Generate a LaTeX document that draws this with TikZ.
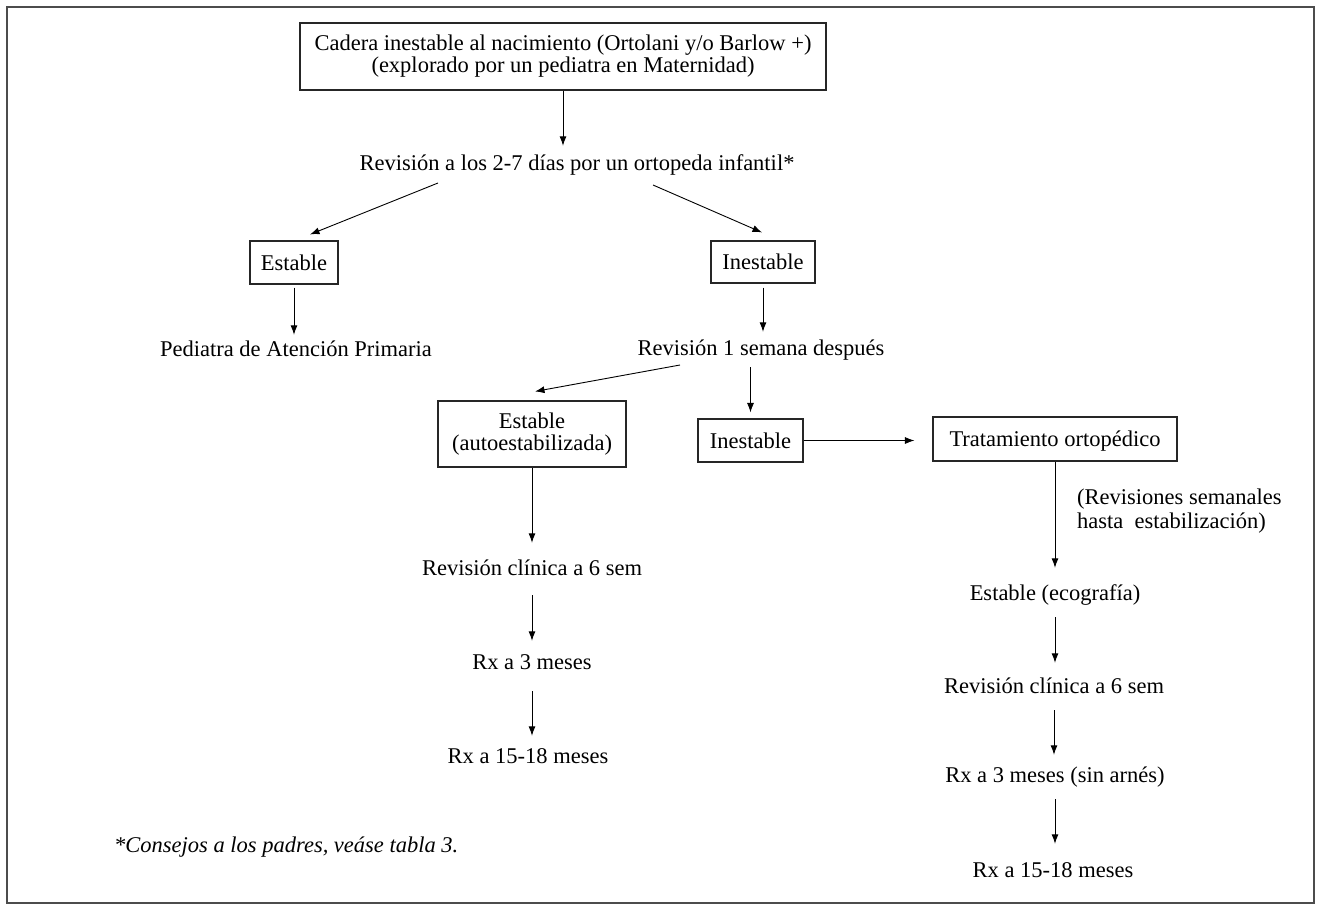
\documentclass[tikz,border=0pt]{standalone}
\usepackage{fontspec}
\setmainfont{Liberation Serif}
\usetikzlibrary{arrows.meta}
\begin{document}
\begin{tikzpicture}[x=1pt,y=-1pt,
  every node/.style={font=\fontsize{22.5}{22}\selectfont, inner sep=0pt},
  txt/.style={text height=15pt, text depth=0pt},
  box/.style={draw=black!85, line width=1.1pt, align=center},
  onebox/.style={box, text height=15pt, text depth=0pt},
  arr/.style={-{Latex[length=9.5pt,width=7pt]}, line width=0.9pt},
  frame/.style={draw=black!70, line width=1.2pt}]
\useasboundingbox (0,0) rectangle (1323,907);
\draw[frame] (7,7) rectangle (1314,903);

% boxes
\node[box, minimum width=526, minimum height=67] (top) at (563,56.5)
  {Cadera inestable al nacimiento (Ortolani y/o Barlow +)\\(explorado por un pediatra en Maternidad)};
\node[onebox, minimum width=88, minimum height=43] (st1) at (294,262.5) {Estable};
\node[onebox, minimum width=104, minimum height=42] (in1) at (763,262) {Inestable};
\node[box, minimum width=188, minimum height=66] (st2) at (532,434) {Estable\\(autoestabilizada)};
\node[onebox, minimum width=105, minimum height=43] (in2) at (750.5,440.5) {Inestable};
\node[onebox, minimum width=244, minimum height=44] (trat) at (1055,439) {Tratamiento ortopédico};

% plain text steps
\node[txt] (rev1) at (577,163) {Revisión a los 2-7 días por un ortopeda infantil*};
\node[txt] (ped) at (296,349) {Pediatra de Atención Primaria};
\node[txt] (rev2) at (761,348) {Revisión 1 semana después};
\node[txt] (rc1) at (532,568) {Revisión clínica a 6 sem};
\node[txt] (rx3) at (532,662) {Rx a 3 meses};
\node[txt] (rx15) at (528,756) {Rx a 15-18 meses};
\node[txt] (eco) at (1055,593) {Estable (ecografía)};
\node[txt] (rc2) at (1054,686) {Revisión clínica a 6 sem};
\node[txt] (rx3b) at (1055,775) {Rx a 3 meses (sin arnés)};
\node[txt] (rx15b) at (1053,870) {Rx a 15-18 meses};

\node[anchor=west, align=left, font=\fontsize{22.5}{24}\selectfont] (note) at (1077,511)
  {(Revisiones semanales\\hasta\ \ estabilización)};
\node[anchor=west, font=\fontsize{22.5}{22}\selectfont\itshape] (fn) at (114,847)
  {*Consejos a los padres, veáse tabla 3.};

% branch start points under the text lines
\coordinate (r1l) at (438,183);
\coordinate (r1r) at (653,185);
\coordinate (r2l) at (680,365);

% connectors
\draw[arr, shorten >=9.5pt] (top.south) -- (top.south |- rev1.north);
\draw[arr] (r1l) -- ([xshift=16pt,yshift=6pt]st1.north);
\draw[arr] (r1r) -- ([xshift=-1pt,yshift=8pt]in1.north);
\draw[arr, shorten <=3pt, shorten >=6.5pt] (st1.south) -- (st1.south |- ped.north);
\draw[arr, shorten <=4pt, shorten >=8.5pt] (in1.south) -- (in1.south |- rev2.north);
\draw[arr] (r2l) -- ([xshift=3pt,yshift=9pt]st2.north);
\draw[arr, shorten <=11.5pt, shorten >=6pt] (in2.north |- rev2.south) -- (in2.north);
\draw[arr, shorten >=18pt] (in2.east) -- (in2.east -| trat.west);
\draw[arr, shorten >=17.5pt] (trat.south) -- (trat.south |- eco.north);
\draw[arr, shorten <=16.5pt, shorten >=15.5pt] (eco.south) -- (eco.south |- rc2.north);
\draw[arr, shorten <=16.5pt, shorten >=12.5pt] (rc2.south) -- (rc2.south |- rx3b.north);
\draw[arr, shorten <=16.5pt, shorten >=18.5pt] (rx3b.south) -- (rx3b.south |- rx15b.north);
\draw[arr, shorten >=17.5pt] (st2.south) -- (st2.south |- rc1.north);
\draw[arr, shorten <=19.5pt, shorten >=13.5pt] (rc1.south) -- (rc1.south |- rx3.north);
\draw[arr, shorten <=21.5pt, shorten >=12.5pt] (rx3.south) -- (rx3.south |- rx15.north);
\end{tikzpicture}
\end{document}
